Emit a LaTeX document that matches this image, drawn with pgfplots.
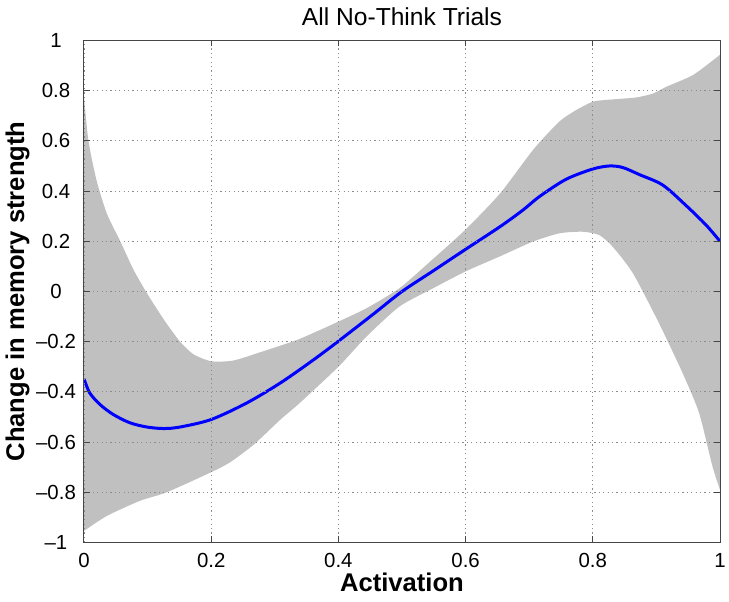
\documentclass[border=0pt]{standalone}
\usepackage{fontspec}
\setmainfont{Liberation Sans}
\usepackage{pgfplots}
\pgfplotsset{compat=1.18}
\usepgfplotslibrary{fillbetween}
\definecolor{bandgray}{RGB}{192,192,192}
\definecolor{axgray}{RGB}{70,70,70}
\begin{document}
\begin{tikzpicture}
\begin{axis}[
  scale only axis, width=318pt, height=251pt,
  xmin=0, xmax=1, ymin=-1, ymax=1,
  xtick={0,0.2,0.4,0.6,0.8,1},
  xticklabels={0,0.2,0.4,0.6,0.8,1},
  ytick={-1,-0.8,-0.6,-0.4,-0.2,0,0.2,0.4,0.6,0.8,1},
  yticklabels={\textendash1,\textendash0.8,\textendash0.6,\textendash0.4,\textendash0.2,0,0.2,0.4,0.6,0.8,1},
  tick label style={font=\fontsize{10.2}{12}\selectfont},
  xticklabel style={anchor=center, yshift=-8.8pt},
  yticklabel style={anchor=center, xshift=-14pt},
  tick align=inside, major tick length=3pt,
  tick style={axgray, line width=0.5pt},
  grid=major,
  grid style={black!45, line width=0.4pt, dash pattern=on 0.6pt off 1.6pt},
  axis line style={axgray, line width=0.5pt},
  axis on top,
  every axis title shift=0pt,
  title={All No-Think Trials},
  title style={font=\fontsize{12.3}{14}\selectfont, at={(axis description cs:0.5,1)}, anchor=center, yshift=12pt},
  xlabel={Activation},
  xlabel style={font=\fontsize{12.8}{15}\selectfont\bfseries, at={(axis description cs:0.5,0)}, anchor=center, yshift=-20pt},
  ylabel={Change in memory strength},
  ylabel style={font=\fontsize{12.8}{15}\selectfont\bfseries, at={(axis description cs:0,0.5)}, anchor=center, yshift=33.25pt},
]
\addplot[name path=upper, draw=none, smooth, tension=0.4] coordinates {
(0,0.775) (0.007,0.60) (0.02,0.44) (0.036,0.31) (0.057,0.20) (0.078,0.086)
(0.099,-0.007) (0.125,-0.11) (0.151,-0.20) (0.172,-0.25) (0.2,-0.278)
(0.235,-0.275) (0.282,-0.238) (0.338,-0.19) (0.4,-0.12) (0.444,-0.067)
(0.496,0.013) (0.549,0.13) (0.6,0.247) (0.654,0.39) (0.707,0.567)
(0.747,0.676) (0.774,0.723) (0.8,0.756) (0.82,0.763) (0.868,0.773)
(0.895,0.789) (0.916,0.816) (0.958,0.863) (1.0,0.943)
};
\addplot[name path=lower, draw=none, smooth, tension=0.4] coordinates {
(0,-0.954) (0.036,-0.894) (0.088,-0.834) (0.13,-0.80) (0.2,-0.72)
(0.23,-0.68) (0.267,-0.61) (0.309,-0.51) (0.338,-0.447) (0.4,-0.30)
(0.444,-0.18) (0.496,-0.06) (0.549,0.013) (0.6,0.08) (0.654,0.14)
(0.706,0.199) (0.748,0.232) (0.784,0.238) (0.81,0.225) (0.831,0.179)
(0.863,0.073) (0.904,-0.126) (0.941,-0.324) (0.967,-0.483) (0.988,-0.695)
(1.0,-0.79)
};
\addplot[bandgray, draw=none] fill between[of=upper and lower];
\addplot[blue, line width=1.5pt, smooth, tension=0.5] coordinates {
(0,-0.348) (0.009,-0.404) (0.025,-0.45) (0.046,-0.49) (0.072,-0.523)
(0.099,-0.54) (0.125,-0.546) (0.151,-0.54) (0.2,-0.51) (0.256,-0.444)
(0.309,-0.364) (0.361,-0.272) (0.4,-0.198) (0.456,-0.088) (0.5,0.0)
(0.549,0.082) (0.6,0.168) (0.654,0.258) (0.69,0.324) (0.716,0.378)
(0.758,0.447) (0.8,0.488) (0.826,0.50) (0.847,0.494) (0.873,0.466)
(0.91,0.424) (0.946,0.344) (0.978,0.265) (1.0,0.20)
};
\end{axis}
\pgfresetboundingbox
\useasboundingbox ([shift={(-42pt,-29.65pt)}]current axis.south west) rectangle ([shift={(4.5pt,20.25pt)}]current axis.north east);
\end{tikzpicture}
\end{document}
